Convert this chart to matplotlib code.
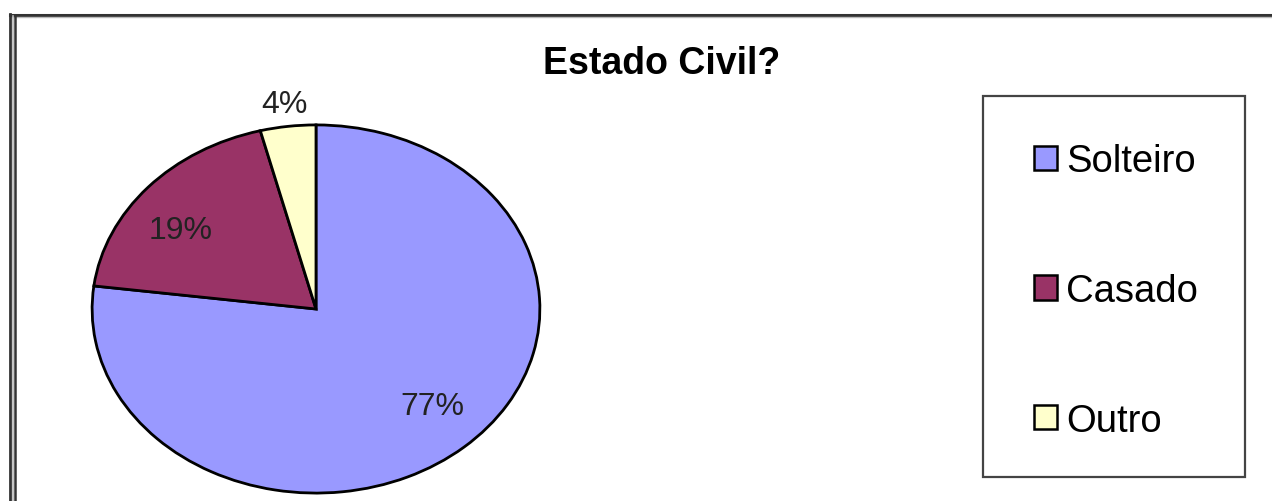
import matplotlib.pyplot as plt
from matplotlib.lines import Line2D
from matplotlib.patches import Rectangle
import numpy as np

# data
categorias = ['Solteiro', 'Casado', 'Outro']
valores = [77, 19, 4]
cores = ['#9999FF', '#993366', '#FFFFCC']
titulo = 'Estado Civil?'

plt.rcParams['font.family'] = ['Liberation Sans', 'DejaVu Sans']

W, H = 1272, 502
fig = plt.figure(figsize=(W / 100, H / 100), dpi=100)
fig.patch.set_facecolor('white')


def fx(x):
    return x / W


def fy(y):
    return 1 - y / H


# outer border (top + double left line), runs off the right/bottom edge
fig.add_artist(Line2D([fx(10), 1.0], [fy(15.5), fy(15.5)], color='#333333', lw=2.2))
fig.add_artist(Line2D([fx(10), 1.0], [fy(17.5), fy(17.5)], color='#bbbbbb', lw=1.0))
fig.add_artist(Line2D([fx(10), fx(10)], [fy(15), 0], color='#333333', lw=2.0))
fig.add_artist(Line2D([fx(12.5), fx(12.5)], [fy(17), 0], color='#bbbbbb', lw=1.2))
fig.add_artist(Line2D([fx(15), fx(15)], [fy(17), 0], color='#333333', lw=1.8))

# pie (elliptical, like the original)
ax = fig.add_axes([fx(91), fy(495), fx(541) - fx(91), fy(125) - fy(495)])
wedges, _ = ax.pie(valores, colors=cores, startangle=90, counterclock=False,
                   wedgeprops=dict(edgecolor='black', linewidth=2.0))
ax.set_aspect('auto')
ax.set_xlim(-1.005, 1.005)
ax.set_ylim(-1.005, 1.005)
ax.axis('off')

dist = [0.74, 0.74, 1.12]
desvio = [3, 6, 0]  # small angular nudge of the labels, degrees
for w, v, d, a in zip(wedges, valores, dist, desvio):
    ang = np.deg2rad((w.theta1 + w.theta2) / 2 + a)
    ax.text(d * np.cos(ang), d * np.sin(ang), f'{v}%', ha='center', va='center',
            fontsize=23, color='#222222', clip_on=False)

fig.text(fx(662), fy(64), titulo, ha='center', va='center',
         fontsize=27, fontweight='bold', color='black')

# legend box
fig.add_artist(Rectangle((fx(983), fy(478)), fx(1245) - fx(983), fy(97) - fy(478),
                         transform=fig.transFigure, fill=False,
                         edgecolor='#444444', lw=1.6))
leg = fig.legend(wedges, categorias, loc='center',
                 bbox_to_anchor=(fx(1116), fy(292)), frameon=False,
                 fontsize=27.5, handlelength=0.6, handleheight=0.6,
                 handletextpad=0.25, labelspacing=2.45)
for h in leg.legend_handles:
    h.set_edgecolor('black')
    h.set_linewidth(1.8)

fig.savefig('out.png', dpi=100)
